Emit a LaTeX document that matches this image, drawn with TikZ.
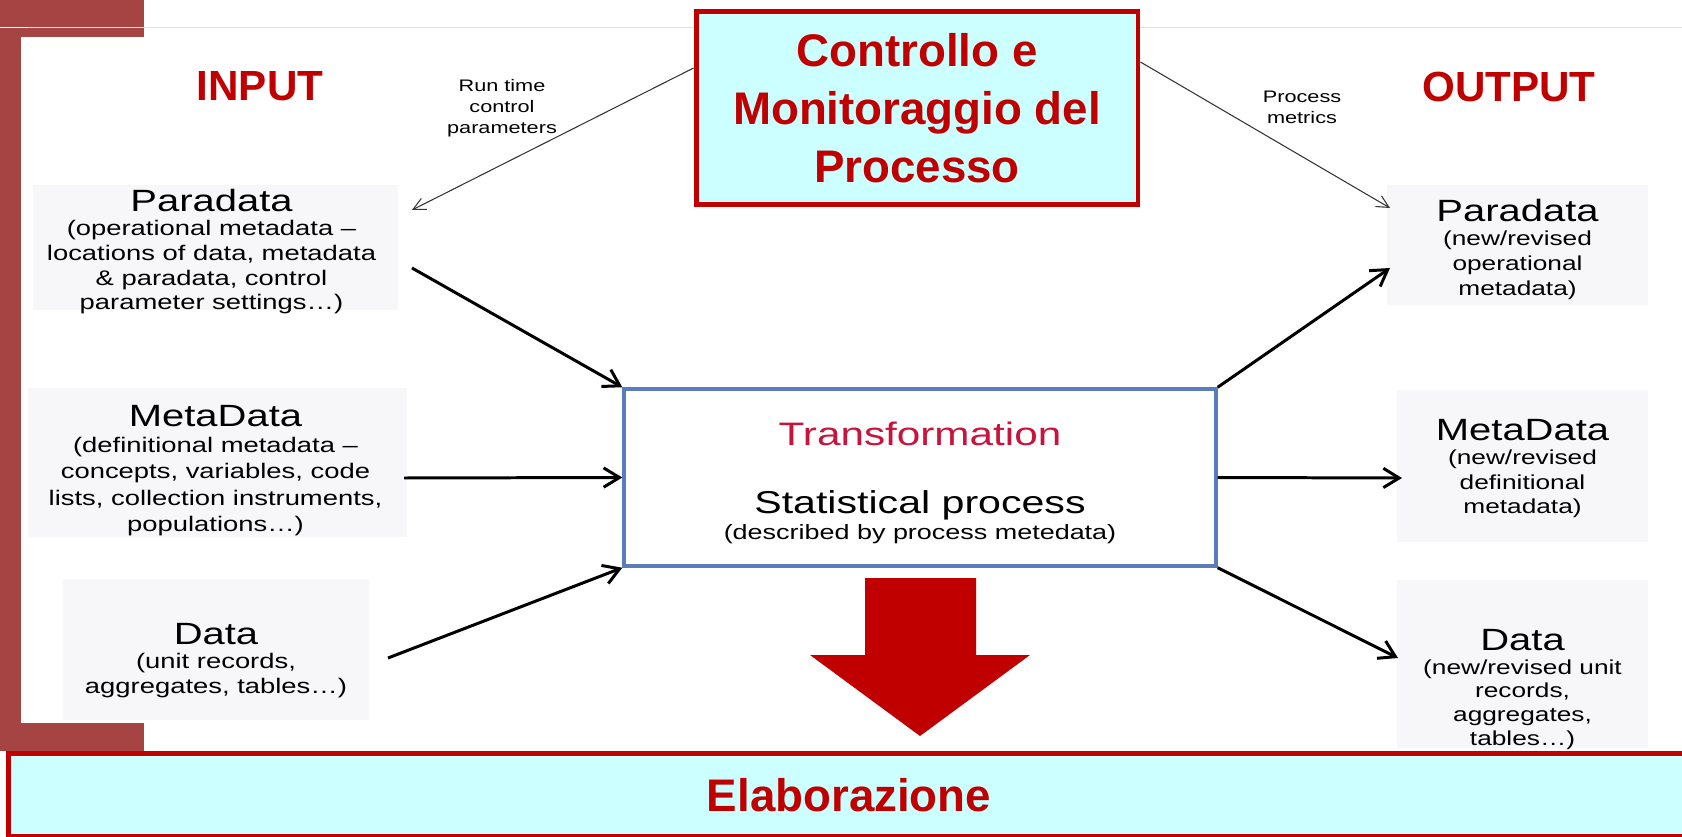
\documentclass[tikz,border=0pt]{standalone}
\usepackage{fontspec}
\setmainfont{Liberation Sans}
\newfontfamily\diagfont[FakeStretch=1.3]{Liberation Sans}
\usetikzlibrary{arrows.meta,calc}

\definecolor{slidered}{HTML}{C00000}
\definecolor{barred}{HTML}{A64444}
\definecolor{slidecyan}{HTML}{CCFFFF}
\definecolor{boxgray}{HTML}{F7F7F9}
\definecolor{transred}{HTML}{C8143C}
\definecolor{boxblue}{HTML}{5B7CBB}

\tikzset{
	slidebox/.style={draw=slidered, line width=2.8pt, fill=slidecyan, inner sep=0pt, text=slidered},
	databox/.style={fill=boxgray, inner sep=0pt},
	intext/.style={anchor=north, inner sep=0pt, align=center, font=\diagfont\fontsize{12}{14}\selectfont},
	outtext/.style={anchor=north, inner sep=0pt, align=center, font=\diagfont\fontsize{11.5}{14}\selectfont},
	flow/.style={line width=1.7pt, -{Straight Barb[length=9pt,width=11pt]}},
	ctrlflow/.style={line width=0.6pt, draw=black!80, -{Straight Barb[length=7pt,width=7pt]}},
}
\newcommand{\boxtitle}[1]{{\fontsize{17.5}{14}\selectfont #1}}

\begin{document}
\begin{tikzpicture}[x=0.02cm, y=-0.02cm]
		%%%%% START %%%%%
		\useasboundingbox (0,0) rectangle (1682,837);
		
		% slide frame
		\fill[barred] (0,0) rectangle (144,37);
		\fill[barred] (0,36) rectangle (21,724);
		\fill[barred] (0,723) rectangle (144,751);
		\draw[white, line width=1.1pt] (0,27.5) -- (28,27.5);
		\draw[gray!25, line width=1.1pt] (28,27.5) -- (1682,27.5);
		
		\node[font=\bfseries\fontsize{24}{28}\selectfont, text=slidered] (input) at (260,86) {INPUT};
		\node[font=\bfseries\fontsize{24}{28}\selectfont, text=slidered] (output) at (1509,87) {OUTPUT};
		
		% control box
		\node[slidebox, minimum width=8.84cm, minimum height=3.86cm, align=center, font=\bfseries\fontsize{26}{33}\selectfont] (ctrl) at (917,108) {Controllo e\\Monitoraggio del\\Processo};
		
		\node[font=\diagfont\fontsize{9.5}{12}\selectfont, align=center] (runtime) at (502,108) {Run time\\control\\parameters};
		\node[font=\diagfont\fontsize{9.5}{12}\selectfont, align=center] (metrics) at (1302,107) {Process\\metrics};
		
		% input side
		\node[databox, minimum width=7.3cm, minimum height=2.5cm] (lpara) at (215.5,247.5) {};
		\node[databox, minimum width=7.58cm, minimum height=2.98cm] (lmeta) at (217.5,462.5) {};
		\node[databox, minimum width=6.12cm, minimum height=2.82cm] (ldata) at (216,649.5) {};
		\node[intext] (lpara-txt) at ($(lpara.north)+(-4,4)$) {\boxtitle{Paradata}\\(operational metadata –\\locations of data, metadata\\\& paradata, control\\parameter settings…)};
		\node[intext, font=\diagfont\fontsize{12}{15}\selectfont] (lmeta-txt) at ($(lmeta.north)+(-2,17)$) {\boxtitle{MetaData}\\(definitional metadata –\\concepts, variables, code\\lists, collection instruments,\\populations…)};
		\node[intext] (ldata-txt) at ($(ldata.north)+(0,44)$) {\boxtitle{Data}\\(unit records,\\aggregates, tables…)};
		
		% output side
		\node[databox, minimum width=5.22cm, minimum height=2.4cm] (rpara) at (1517.5,245) {};
		\node[databox, minimum width=5.02cm, minimum height=3.04cm] (rmeta) at (1522.5,466) {};
		\node[databox, minimum width=5.02cm, minimum height=3.36cm] (rdata) at (1522.5,664) {};
		\node[outtext] (rpara-txt) at ($(rpara.north)+(0,14)$) {\boxtitle{Paradata}\\(new/revised\\operational\\metadata)};
		\node[outtext] (rmeta-txt) at ($(rmeta.north)+(0,29)$) {\boxtitle{MetaData}\\(new/revised\\definitional\\metadata)};
		\node[outtext, font=\diagfont\fontsize{11.5}{13.6}\selectfont] (rdata-txt) at ($(rdata.north)+(0,49)$) {\boxtitle{Data}\\(new/revised unit\\records,\\aggregates,\\tables…)};
		
		% statistical process
		\node[draw=boxblue, line width=2pt, fill=white, minimum width=11.84cm, minimum height=3.54cm] (trans) at (920,477.5) {};
		\node[font=\diagfont\fontsize{18.5}{20}\selectfont, text=transred, anchor=base] (transtitle) at (920,445) {Transformation};
		\node[font=\diagfont\fontsize{18}{20}\selectfont, anchor=base] (statproc) at (920,513) {Statistical process};
		\node[font=\diagfont\fontsize{11.8}{13}\selectfont, anchor=base] (statnote) at (920,539) {(described by process metedata)};
		
		\coordinate (lpara-in) at (412,210);
		\coordinate (rpara-in) at (1390,208);
		\coordinate (lpara-out) at (412,268);
		\coordinate (lmeta-out) at (404,478);
		\coordinate (ldata-out) at (388,658);
		\coordinate (rpara-to) at (1390,268);
		\coordinate (rmeta-to) at (1402,478);
		\coordinate (rdata-to) at (1398,658);
		
		\draw[ctrlflow] ($(ctrl.west)+(0,-40)$) -- (lpara-in);
		\draw[ctrlflow] ($(ctrl.east)+(0,-46)$) -- (rpara-in);
		
		\draw[flow] (lpara-out) -- (trans.north west);
		\draw[flow] (lmeta-out) -- (trans.west);
		\draw[flow] (ldata-out) -- (trans.south west);
		\draw[flow] (trans.north east) -- (rpara-to);
		\draw[flow] (trans.east) -- (rmeta-to);
		\draw[flow] (trans.south east) -- (rdata-to);
		
		% big arrow down
		\fill[slidered] (865,578) -- (976,578) -- (976,655) -- (1030,655) -- (920,736) -- (810,655) -- (865,655) -- cycle;
		
		% bottom bar
		\node[slidebox, minimum width=33.63cm, minimum height=1.66cm, font=\bfseries\fontsize{26}{30}\selectfont] (elab) at (849,795) {Elaborazione};
		
		%%%%% END %%%%%
\end{tikzpicture}
\end{document}
